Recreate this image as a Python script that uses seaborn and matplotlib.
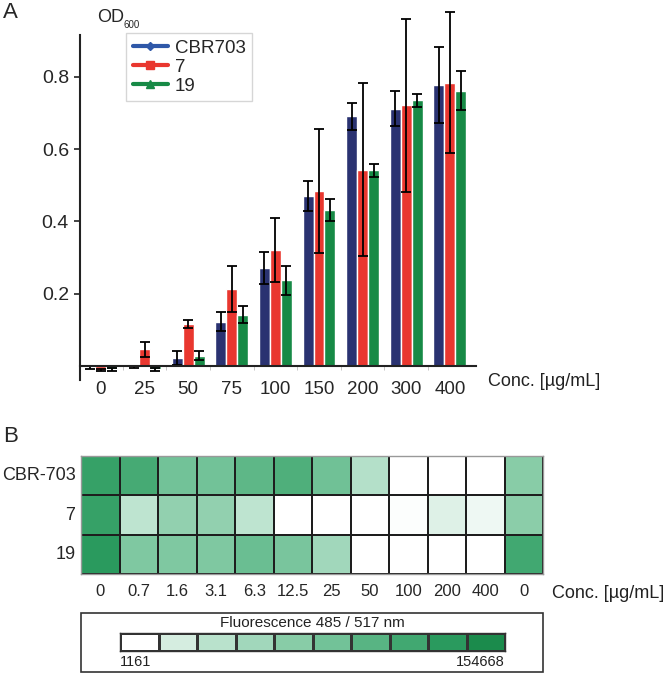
import numpy as np
import pandas as pd
import matplotlib
matplotlib.use('Agg')
import matplotlib.pyplot as plt
import seaborn as sns
from matplotlib.colors import LinearSegmentedColormap
from matplotlib.lines import Line2D
from matplotlib.patches import Rectangle

# ---- panel A: OD600 growth ----
conc_a = ['0', '25', '50', '75', '100', '150', '200', '300', '400']
strains = ['CBR703', '7', '19']
od_cbr703 = [-0.004, -0.003, 0.022, 0.122, 0.271, 0.470, 0.691, 0.712, 0.778]
od_7 = [-0.012, 0.046, 0.117, 0.212, 0.320, 0.484, 0.543, 0.721, 0.784]
od_19 = [-0.010, -0.010, 0.028, 0.142, 0.237, 0.431, 0.541, 0.736, 0.761]
err_cbr703 = [0.004, 0.003, 0.019, 0.026, 0.043, 0.042, 0.037, 0.049, 0.105]
err_7 = [0.003, 0.021, 0.011, 0.064, 0.089, 0.172, 0.240, 0.239, 0.195]
err_19 = [0.003, 0.004, 0.012, 0.024, 0.040, 0.030, 0.019, 0.018, 0.054]

# ---- panel B: fluorescence ----
conc_b = ['0', '0.7', '1.6', '3.1', '6.3', '12.5', '25', '50', '100', '200', '400', '0']
rows_b = ['CBR-703', '7', '19']
fl_cbr703 = [129000, 117000, 86400, 86400, 100100, 110300, 88100, 38700, 1200, 1200, 1200, 69400]
fl_7 = [129000, 31900, 62600, 62600, 31900, 1200, 1200, 1200, 2900, 14800, 8000, 67700]
fl_19 = [137600, 76200, 76200, 76200, 91600, 81300, 52300, 1200, 1200, 1200, 1200, 120600]
fl_min, fl_max = 1161, 154668

bar_colors = {'CBR703': '#2a3271', '7': '#e9372f', '19': '#178a46'}
legend_colors = {'CBR703': '#2f58a8', '7': '#e9372f', '19': '#178a46'}
green_steps = ['#ffffff', '#d4ede0', '#b8e2cc', '#a1d7bb', '#88cca7',
               '#72c298', '#58b483', '#42a871', '#2a9a5e', '#1b8b4c']

sns.set_theme(style='white')
plt.rcParams['font.family'] = ['Liberation Sans', 'DejaVu Sans']

fig = plt.figure(figsize=(6.66, 6.73), dpi=100)

# ---------- A ----------
df = pd.DataFrame({
    'conc': conc_a * 3,
    'strain': np.repeat(strains, len(conc_a)),
    'od': od_cbr703 + od_7 + od_19,
})
ax = fig.add_axes([0.1201, 0.4354, 0.5946, 0.5126])
sns.barplot(data=df, x='conc', y='od', hue='strain', order=conc_a,
            hue_order=strains, palette=bar_colors, errorbar=None,
            width=0.75, saturation=1, legend=False, ax=ax)

for cont, vals, errs in zip(ax.containers, [od_cbr703, od_7, od_19],
                            [err_cbr703, err_7, err_19]):
    xs = [p.get_x() + p.get_width() / 2 for p in cont]
    eb = ax.errorbar(xs, vals, yerr=errs, fmt='none', ecolor='black',
                     elinewidth=1.3, capsize=3.5, capthick=1.3)
    for art in eb.lines[1] + eb.lines[2]:
        art.set_clip_on(False)

ax.set_xlim(-0.48, 8.6)
ax.set_ylim(-0.039, 0.916)
ax.set_yticks([0.2, 0.4, 0.6, 0.8])
ax.set_yticklabels(['0.2', '0.4', '0.6', '0.8'])
ax.set_xlabel('')
ax.set_ylabel('')
for s in ['top', 'right']:
    ax.spines[s].set_visible(False)
ax.spines['bottom'].set_position(('data', 0))
ax.spines['left'].set_color('#222222')
ax.spines['bottom'].set_color('#222222')
ax.spines['left'].set_linewidth(1.5)
ax.spines['bottom'].set_linewidth(1.5)
ax.tick_params(axis='y', left=True, length=4, width=1.2, labelsize=14,
               pad=4, color='#222222')
ax.tick_params(axis='x', bottom=False, labelsize=13.5, pad=5)
ax.set_xticks(np.arange(0.5, 8.5, 1), minor=True)
ax.tick_params(axis='x', which='minor', bottom=True, length=3, width=0.6,
               color='#bbbbbb')

handles = [
    Line2D([], [], color=legend_colors['CBR703'], lw=3, marker='D', markersize=4),
    Line2D([], [], color=legend_colors['7'], lw=3, marker='s', markersize=6),
    Line2D([], [], color=legend_colors['19'], lw=3, marker='^', markersize=6),
]
leg = fig.legend(handles, strains, loc='upper left',
                 bbox_to_anchor=(126 / 666, 1 - 33 / 673), fontsize=13.5,
                 frameon=True, fancybox=False, handlelength=1.9,
                 handletextpad=0.35, labelspacing=0.1, borderpad=0.35,
                 borderaxespad=0)
leg.get_frame().set_edgecolor('#cccccc')
leg.get_frame().set_linewidth(1)

fig.text(3 / 666, 1 - 13 / 673, 'A', fontsize=16, va='center', ha='left')
fig.text(97 / 666, 1 - 18 / 673, 'OD', fontsize=13, va='center', ha='left')
fig.text(124 / 666, 1 - 25 / 673, '600', fontsize=7, va='center', ha='left')
fig.text(488 / 666, 1 - 381 / 673, 'Conc. [µg/mL]', fontsize=13,
         va='center', ha='left', color='#222222')

# ---------- B ----------
cmap = LinearSegmentedColormap.from_list('fluo', green_steps)
heat = pd.DataFrame([fl_cbr703, fl_7, fl_19], index=rows_b)
axh = fig.add_axes([81 / 666, 1 - 574 / 673, 462 / 666, 118 / 673])
sns.heatmap(heat, cmap=cmap, vmin=fl_min, vmax=fl_max, cbar=False,
            linewidths=1.2, linecolor='#1e1e1e', xticklabels=conc_b,
            yticklabels=rows_b, ax=axh)
axh.tick_params(axis='x', length=0, labelsize=12, pad=7)
axh.tick_params(axis='y', length=0, labelsize=13, pad=4)
plt.setp(axh.get_yticklabels(), rotation=0)
plt.setp(axh.get_xticklabels(), rotation=0)
axh.set_xlabel('')
axh.set_ylabel('')
for s in axh.spines.values():
    s.set_visible(True)
    s.set_color('#999999')
    s.set_linewidth(1)

fig.text(3 / 666, 1 - 436 / 673, 'B', fontsize=16, va='center', ha='left')
fig.text(552 / 666, 1 - 593 / 673, 'Conc. [µg/mL]', fontsize=13,
         va='center', ha='left', color='#222222')

# colour key
fig.add_artist(Rectangle((81 / 666, 1 - 672 / 673), 462 / 666, 59 / 673,
                         transform=fig.transFigure, fill=False,
                         edgecolor='#333333', lw=1.2))
axc = fig.add_axes([120 / 666, 1 - 651 / 673, 385 / 666, 18 / 673])
key = pd.DataFrame([np.linspace(fl_min, fl_max, len(green_steps))])
sns.heatmap(key, cmap=cmap, vmin=fl_min, vmax=fl_max, cbar=False,
            linewidths=1, linecolor='#333333', xticklabels=False,
            yticklabels=False, ax=axc)
for s in axc.spines.values():
    s.set_visible(True)
    s.set_color('#333333')
    s.set_linewidth(1)
fig.text(312 / 666, 1 - 623 / 673, 'Fluorescence 485 / 517 nm', fontsize=11,
         va='center', ha='center', color='#222222')
fig.text(120 / 666, 1 - 662 / 673, f'{fl_min}', fontsize=10.5, va='center',
         ha='left', color='#222222')
fig.text(505 / 666, 1 - 662 / 673, f'{fl_max}', fontsize=10.5, va='center',
         ha='right', color='#222222')

fig.savefig('out.png', dpi=100)
